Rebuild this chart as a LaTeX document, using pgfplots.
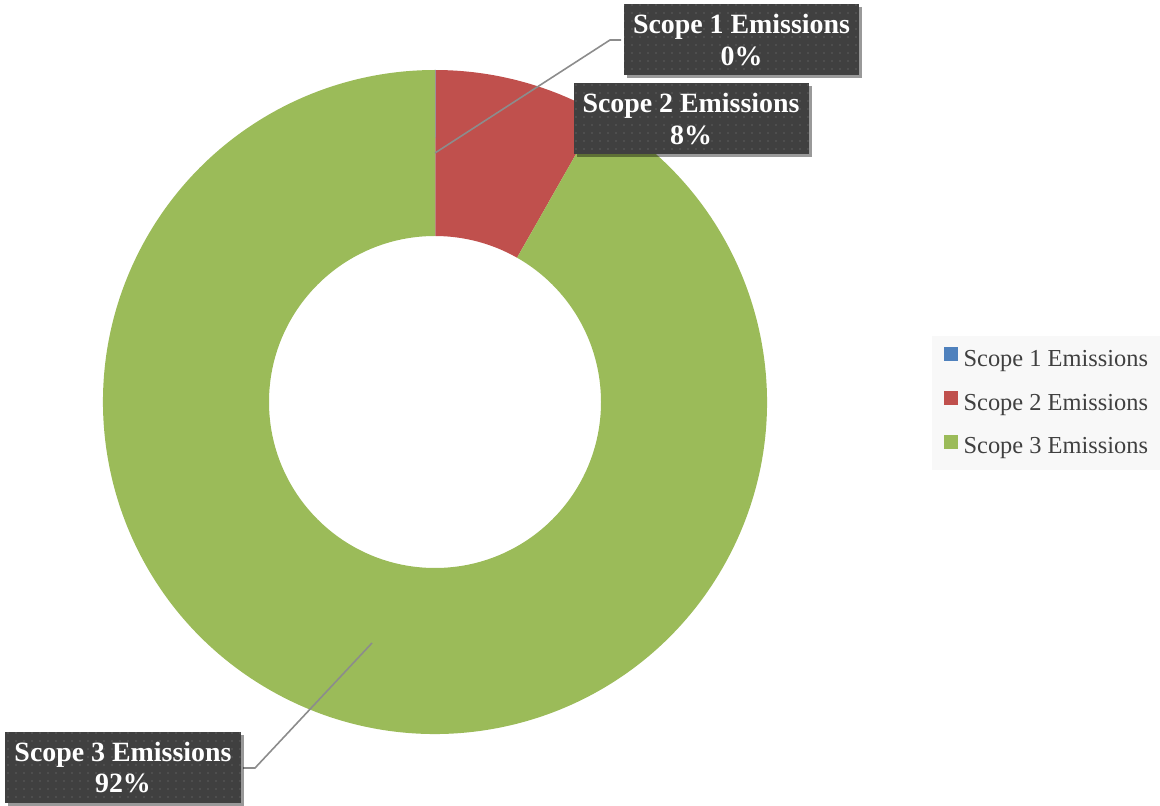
\documentclass[border=0pt]{standalone}
\usepackage{fontspec}
\setmainfont{Liberation Serif}
\usepackage{pgfplots}
\pgfplotsset{compat=1.18}
\usepackage{pgfplotstable}
\usetikzlibrary{patterns.meta,shadows}
\definecolor{sone}{HTML}{4F81BD}
\definecolor{stwo}{HTML}{C0504D}
\definecolor{sthree}{HTML}{9BBB59}
\definecolor{boxc}{HTML}{404040}
\definecolor{dotc}{HTML}{5E5E5E}
\definecolor{legbg}{HTML}{F8F8F8}
\definecolor{legtext}{HTML}{404040}
\definecolor{leadc}{HTML}{8C8C8C}

\pgfplotstableread[col sep=comma]{
label,value
Scope 1 Emissions,0.03
Scope 2 Emissions,8.2
Scope 3 Emissions,91.77
}\emis

\begin{document}
\begin{tikzpicture}
\pgfplotstablegetelem{0}{value}\of\emis \pgfmathsetmacro\va{\pgfplotsretval}
\pgfplotstablegetelem{1}{value}\of\emis \pgfmathsetmacro\vb{\pgfplotsretval}
\pgfplotstablegetelem{2}{value}\of\emis \pgfmathsetmacro\vc{\pgfplotsretval}
\pgfmathsetmacro\aA{90}
\pgfmathsetmacro\aB{90-3.6*\va}
\pgfmathsetmacro\aC{\aB-3.6*\vb}
\pgfmathsetmacro\aD{\aC-3.6*\vc}
\def\Ro{332bp}
\def\Ri{166bp}
\tikzset{
  lbl/.style={fill=boxc,
    postaction={pattern={Dots[distance=8bp,radius=0.9bp]},pattern color=dotc},
    text=white, font=\bfseries\fontsize{28}{32}\selectfont, align=center,
    inner xsep=9bp, inner ysep=0pt, minimum height=71bp,
    drop shadow={shadow xshift=3bp, shadow yshift=-3bp, opacity=0.4, fill=black}},
  leader/.style={draw=leadc, line width=1.6bp}
}
\begin{axis}[name=ax, scale only axis, width=1160bp, height=805bp,
  xmin=0, xmax=1160, ymin=0, ymax=805, hide axis, clip=false,
  legend cell align=left,
  legend style={at={(axis cs:932,469)}, anchor=north west, draw=none, fill=legbg,
    font=\fontsize{24.5}{28}\selectfont, text=legtext,
    inner xsep=12bp, inner ysep=11bp, row sep=19.5bp,
    nodes={inner sep=0pt, text height=17bp, text depth=5bp},
    /tikz/every odd column/.append style={column sep=6bp}},
]
\addlegendimage{legend image code/.code={\fill[sone] (0bp,0bp) rectangle (13bp,13bp);}}
\addlegendentry{Scope 1 Emissions}
\addlegendimage{legend image code/.code={\fill[stwo] (0bp,0bp) rectangle (13bp,13bp);}}
\addlegendentry{Scope 2 Emissions}
\addlegendimage{legend image code/.code={\fill[sthree] (0bp,0bp) rectangle (13bp,13bp);}}
\addlegendentry{Scope 3 Emissions}

% donut slices
\fill[sone] ([shift={(\aA:\Ro)}]axis cs:435,403) arc[start angle=\aA, end angle=\aB, radius=\Ro]
  -- ([shift={(\aB:\Ri)}]axis cs:435,403) arc[start angle=\aB, end angle=\aA, radius=\Ri] -- cycle;
\fill[stwo] ([shift={(\aB:\Ro)}]axis cs:435,403) arc[start angle=\aB, end angle=\aC, radius=\Ro]
  -- ([shift={(\aC:\Ri)}]axis cs:435,403) arc[start angle=\aC, end angle=\aB, radius=\Ri] -- cycle;
\fill[sthree] ([shift={(\aC:\Ro)}]axis cs:435,403) arc[start angle=\aC, end angle=\aD, radius=\Ro]
  -- ([shift={(\aD:\Ri)}]axis cs:435,403) arc[start angle=\aD, end angle=\aC, radius=\Ri] -- cycle;

% leader lines
\draw[leader] (axis cs:435,652) -- (axis cs:610,765) -- (axis cs:621,765);
\draw[leader] (axis cs:372,162) -- (axis cs:255,37) -- (axis cs:243,37);

% data labels
\node[lbl] at (axis cs:741.5,765) {Scope 1 Emissions\\0\%};
\node[lbl] at (axis cs:691,686) {Scope 2 Emissions\\8\%};
\node[lbl] at (axis cs:123,37.5) {Scope 3 Emissions\\92\%};
\end{axis}
\pgfresetboundingbox
\useasboundingbox (ax.south west) rectangle (ax.north east);
\end{tikzpicture}
\end{document}
